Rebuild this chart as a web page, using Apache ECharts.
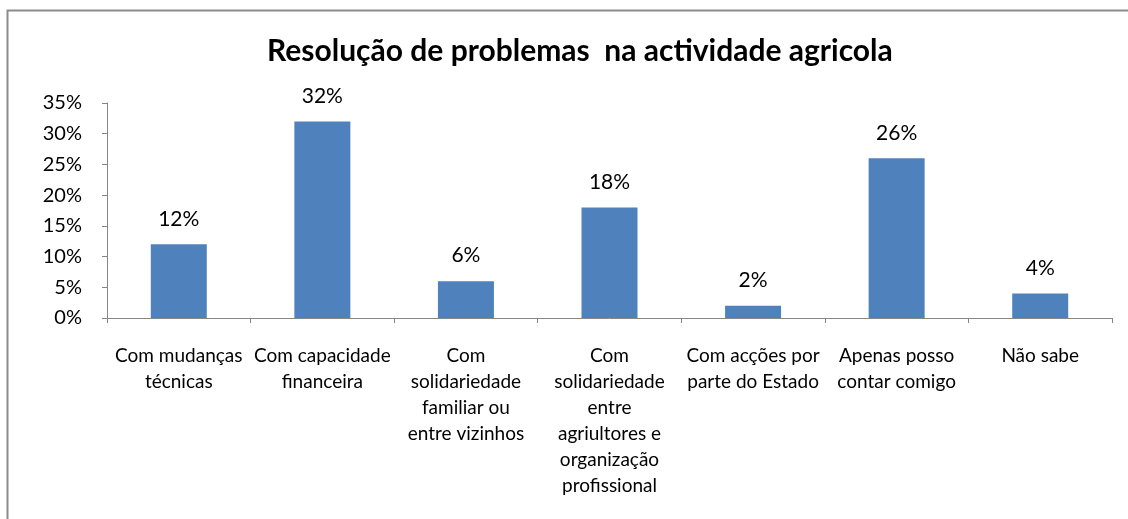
<!DOCTYPE html>
<html>
<head>
<meta charset="utf-8">
<script src="https://cdn.jsdelivr.net/npm/echarts@6/dist/echarts.min.js"></script>
<style>
  html, body { margin: 0; padding: 0; background: #fff; }
  #main { width: 1128px; height: 519px; }
</style>
</head>
<body>
<div id="main"></div>
<script>
  // categorias (quebras de linha como no original)
  var categorias = [
    'Com mudanças\ntécnicas',
    'Com capacidade\nfinanceira',
    'Com\nsolidariedade\nfamiliar ou\nentre vizinhos',
    'Com\nsolidariedade\nentre\nagriultores e\norganização\nprofissional',
    'Com acções por\nparte do Estado',
    'Apenas posso\ncontar comigo',
    'Não sabe'
  ]
  var valores = [12, 32, 6, 18, 2, 26, 4]
  var titulo = 'Resolução de problemas  na actividade agricola'

  var myChart = echarts.init(document.getElementById('main'))
  var fonte = 'Lato, "Open Sans", sans-serif'

  var option = {
    animation: false,
    backgroundColor: '#fff',
    title: {
      text: titulo,
      left: 262,
      top: 31,
      textStyle: { fontFamily: fonte, fontSize: 30, fontWeight: 'bold', color: '#000' }
    },
    graphic: [
      {
        type: 'rect',
        shape: { x: 7.5, y: 10.5, width: 1300, height: 700 },
        style: { fill: 'none', stroke: '#8c8c8c', lineWidth: 2 },
        silent: true
      }
    ],
    grid: { left: 107, right: 16, top: 103, bottom: 201, containLabel: false },
    xAxis: {
      type: 'category',
      data: categorias,
      axisLine: { lineStyle: { color: '#868686', width: 1 } },
      axisTick: { show: true, length: 5, alignWithLabel: false, lineStyle: { color: '#868686' } },
      axisLabel: {
        interval: 0,
        margin: 25,
        color: '#000',
        fontFamily: fonte,
        fontSize: 19,
        lineHeight: 26
      }
    },
    yAxis: {
      type: 'value',
      min: 0,
      max: 35,
      interval: 5,
      splitLine: { show: false },
      axisLine: { show: true, lineStyle: { color: '#868686', width: 1 } },
      axisTick: { show: true, length: 5, lineStyle: { color: '#868686' } },
      axisLabel: {
        margin: 25,
        color: '#000',
        fontFamily: fonte,
        fontSize: 20,
        formatter: '{value}%'
      }
    },
    series: [
      {
        type: 'bar',
        data: valores,
        barWidth: '39%',
        itemStyle: { color: '#4F81BD' },
        label: {
          show: true,
          position: 'top',
          distance: 15,
          color: '#000',
          fontFamily: fonte,
          fontSize: 21,
          formatter: '{c}%'
        }
      }
    ]
  }

  myChart.setOption(option)
  window.addEventListener('resize', function () {
    myChart.resize()
  })
</script>
</body>
</html>
